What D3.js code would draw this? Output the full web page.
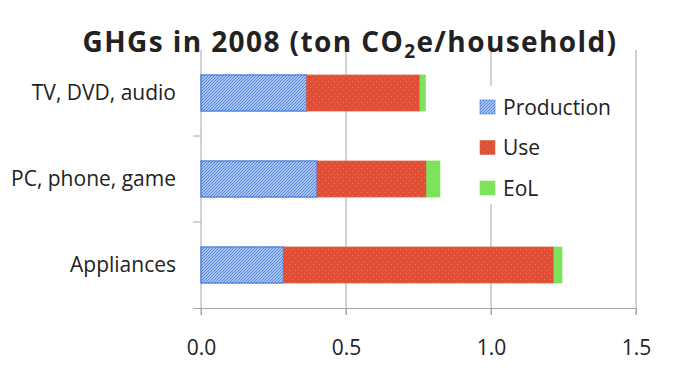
<!DOCTYPE html>
<html>
<head>
<meta charset="utf-8">
<script src="https://cdn.jsdelivr.net/npm/d3@7"></script>
<style>
  body { margin: 0; background: #fff; }
  text { font-family: "Open Sans", "Noto Sans", sans-serif; fill: #222; }
</style>
</head>
<body>
<div id="chart"></div>
<script>
const categories = ["TV, DVD, audio", "PC, phone, game", "Appliances"];
const production = [0.364, 0.40, 0.284];
const use = [0.391, 0.378, 0.933];
const eol = [0.019, 0.046, 0.028];
const seriesNames = ["Production", "Use", "EoL"];
const xTicks = [0.0, 0.5, 1.0, 1.5];

const W = 680, H = 376;
const margin = {top: 50, right: 44, bottom: 68, left: 201};
const width = W - margin.left - margin.right,
      height = H - margin.top - margin.bottom;

const svg = d3.select("#chart").append("svg")
    .attr("width", W)
    .attr("height", H);

// patterns
const defs = svg.append("defs");
const hatch = defs.append("pattern")
    .attr("id", "hatch")
    .attr("patternUnits", "userSpaceOnUse")
    .attr("width", 3).attr("height", 3);
hatch.append("rect").attr("width", 3).attr("height", 3).attr("fill", "#a9c4f0");
hatch.append("path").attr("d", "M-1,1 l2,-2 M0,3 l3,-3 M2,4 l2,-2")
    .attr("stroke", "#4a7fe0").attr("stroke-width", 0.9);

const dots = defs.append("pattern")
    .attr("id", "dots")
    .attr("patternUnits", "userSpaceOnUse")
    .attr("width", 6).attr("height", 6);
dots.append("rect").attr("width", 6).attr("height", 6).attr("fill", "#de4f35");
dots.append("rect").attr("x", 1).attr("y", 1).attr("width", 1).attr("height", 1).attr("fill", "#e87a66");
dots.append("rect").attr("x", 4).attr("y", 4).attr("width", 1).attr("height", 1).attr("fill", "#e87a66");

const fills = ["url(#hatch)", "url(#dots)", "#7de35a"];
const strokes = ["#3f76e0", "#e0644c", "#7de35a"];

const g = svg.append("g")
    .attr("transform", "translate(" + margin.left + "," + margin.top + ")");

const x = d3.scaleLinear().domain([0, 1.5]).range([0, width]);
const y = d3.scaleBand().domain(categories).range([0, height]).paddingInner(0.58).paddingOuter(0.29);

// gridlines
g.selectAll(".grid")
    .data(xTicks.slice(1))
    .enter().append("line")
    .attr("x1", d => x(d)).attr("x2", d => x(d))
    .attr("y1", 0).attr("y2", height + 7)
    .attr("stroke", "#a6a6a6").attr("stroke-width", 1);

// y axis line + ticks between categories
g.append("line")
    .attr("x1", 0).attr("x2", 0).attr("y1", 0).attr("y2", height + 7)
    .attr("stroke", "#a6a6a6");
const step = height / categories.length;
g.selectAll(".ytick")
    .data(d3.range(1, categories.length))
    .enter().append("line")
    .attr("x1", -8).attr("x2", 0)
    .attr("y1", d => d * step).attr("y2", d => d * step)
    .attr("stroke", "#a6a6a6");

// x axis
const xAxis = g.append("g")
    .attr("transform", "translate(0," + height + ")")
    .call(d3.axisBottom(x).tickValues(xTicks).tickFormat(d3.format(".1f")).tickSize(7).tickPadding(25));
xAxis.select(".domain").attr("d", "M-8,0.5H" + width).attr("stroke", "#a6a6a6");
xAxis.selectAll(".tick line").attr("stroke", "#a6a6a6");
xAxis.selectAll("text").style("font-size", "21px").style("font-family", "Open Sans").attr("fill", "#222");

// stacked bars
const rows = categories.map((c, i) => ({cat: c, Production: production[i], Use: use[i], EoL: eol[i]}));
const stack = d3.stack().keys(seriesNames)(rows);

stack.forEach((layer, k) => {
  g.selectAll(".bar" + k)
    .data(layer)
    .enter().append("rect")
    .attr("x", d => x(d[0]))
    .attr("y", d => y(d.data.cat))
    .attr("width", d => x(d[1]) - x(d[0]))
    .attr("height", y.bandwidth())
    .attr("fill", fills[k])
    .attr("stroke", strokes[k])
    .attr("stroke-width", k === 0 ? 1.2 : 0.6);
});

// category labels
g.selectAll(".cat")
    .data(categories)
    .enter().append("text")
    .attr("x", -25)
    .attr("y", d => y(d) + y.bandwidth() / 2)
    .attr("dy", "0.35em")
    .attr("text-anchor", "end")
    .style("font-size", "21px")
    .text(d => d);

// legend
const legend = svg.append("g").attr("transform", "translate(468,86)");
legend.append("rect")
    .attr("x", 0).attr("y", 0).attr("width", 150).attr("height", 118)
    .attr("fill", "#fff");
seriesNames.forEach((s, i) => {
  const row = legend.append("g").attr("transform", "translate(12," + (21 + i * 40.5) + ")");
  row.append("rect")
      .attr("x", 0).attr("y", -7).attr("width", 15).attr("height", 14)
      .attr("fill", fills[i])
      .attr("stroke", strokes[i]).attr("stroke-width", 0.6);
  row.append("text")
      .attr("x", 23).attr("y", 0).attr("dy", "0.36em")
      .style("font-size", "21px")
      .text(s);
});

// title
const title = svg.append("text")
    .attr("x", 350).attr("y", 52)
    .attr("text-anchor", "middle")
    .style("font-size", "28px")
    .style("font-weight", "bold")
    .style("font-family", "'Open Sans', sans-serif")
    .attr("fill", "#000");
title.append("tspan").text("GHGs in 2008 (ton CO");
title.append("tspan").attr("dy", 6).style("font-size", "19px").text("2");
title.append("tspan").attr("dy", -6).text("e/household)");
// nudge title width toward the reference (~535px)
const tw = title.node().getComputedTextLength();
const nChars = "GHGs in 2008 (ton CO2e/household)".length;
const ls = Math.max(-1.5, Math.min(1.5, (535 - tw) / nChars));
title.style("letter-spacing", ls + "px");
</script>
</body>
</html>
